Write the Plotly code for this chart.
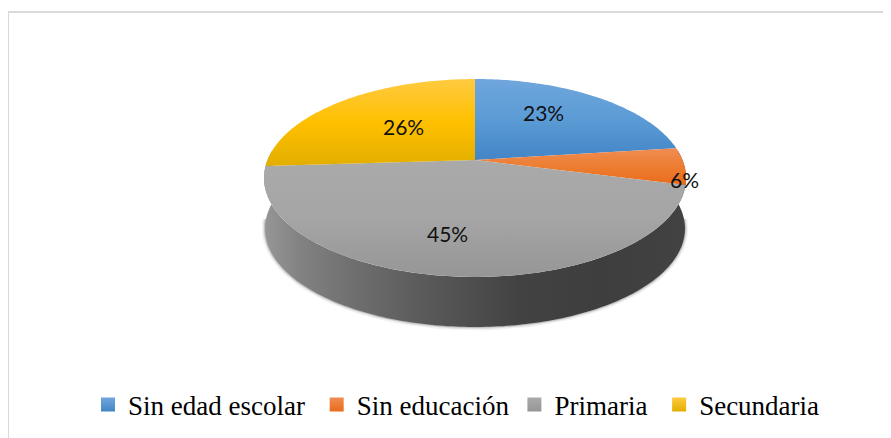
import numpy as np
import plotly.graph_objects as go

categories = ["Sin edad escolar", "Sin educación", "Primaria", "Secundaria"]
percent = [23, 6, 45, 26]
gradients = [
    ["#6fa6dd", "#5b9bd5", "#4285c6"],
    ["#f08c52", "#ed7d31", "#e96c1a"],
    ["#aaaaaa", "#a5a5a5", "#969696"],
    ["#ffca40", "#ffc000", "#e2ae00"],
]
labels = ["23%", "6%", "45%", "26%"]
legend_pad = [1, 0, 1, 0]  # extra no-break spaces to space the legend entries

W, H = 891, 438
PAGE = 8  # the page's own margin
APEX_X, APEX_Y = 475, 160
A, B, K = 95.7, 207.5, 0.1818
DEPTH = 50.6
RIM_SCALE = 0.995
label_pos = [(543, 112), (684, 179), (447, 233), (403, 126)]
rim_stops = [(265, 150), (300, 130), (350, 112), (430, 88), (520, 66), (600, 62), (685, 66)]


def project(theta_deg, scale=1.0, dy=0.0):
    t = np.radians(theta_deg)
    u, v = np.sin(t), np.cos(t)
    d = 1 + K * v
    return APEX_X + B * scale * u / d, APEX_Y + dy - A * scale * v / d


fig = go.Figure()

# Soft shadow round the rim
th = np.linspace(95, 265, 120)
sx, sy = project(th, RIM_SCALE, DEPTH)
for w, a in [(7, 0.05), (4, 0.09), (2, 0.14)]:
    fig.add_trace(go.Scatter(x=sx, y=sy, mode="lines", line=dict(color=f"rgba(0,0,0,{a})", width=w),
                             showlegend=False, hoverinfo="skip"))

# Rim, shaded from left to right
arc = np.linspace(84, 276, 200)
tx, ty = project(arc)
bx, by = project(arc[::-1], RIM_SCALE, DEPTH)
x0, x1 = rim_stops[0][0], rim_stops[-1][0]
fig.add_trace(go.Scatter(
    x=np.r_[tx, bx], y=np.r_[ty, by], mode="none", fill="toself", showlegend=False, hoverinfo="skip",
    fillgradient=dict(type="horizontal", start=x0, stop=x1,
                      colorscale=[[(p - x0) / (x1 - x0), f"rgb({g},{g},{g})"] for p, g in rim_stops]),
))

# Top face, one wedge for each value
angles = np.r_[0, np.cumsum(percent)] * 3.6
for name, a0, a1, grad in zip(categories, angles[:-1], angles[1:], gradients):
    arc = np.linspace(a0, a1, 90)
    px, py = project(arc)
    x = np.r_[APEX_X, px, APEX_X]
    y = np.r_[APEX_Y, py, APEX_Y]
    fig.add_trace(go.Scatter(
        x=x, y=y, mode="none", fill="toself", showlegend=False, hoverinfo="skip",
        fillgradient=dict(type="vertical", start=float(y.min()), stop=float(y.max()),
                          colorscale=[[0, grad[0]], [0.5, grad[1]], [1, grad[2]]]),
    ))

# Legend entries
for name, grad, pad in zip(categories, gradients, legend_pad):
    fig.add_trace(go.Scatter(
        x=[None], y=[None], mode="markers", name=name + "\u00a0" * pad,
        marker=dict(symbol="square", size=14, color=grad[0],
                    gradient=dict(type="vertical", color=grad[2])),
    ))

for text, (lx, ly) in zip(labels, label_pos):
    fig.add_annotation(x=lx, y=ly, text=text, showarrow=False,
                       font=dict(family="Lato", size=21, color="#111111"))

fig.add_shape(type="rect", x0=8, y0=12, x1=W + 20, y1=H + 20,
              line=dict(color="#d9d9d9", width=2), layer="below")

fig.update_layout(
    width=W - PAGE, height=H - PAGE, margin=dict(l=0, r=0, t=0, b=0),
    paper_bgcolor="white", plot_bgcolor="white",
    xaxis=dict(range=[PAGE, W], visible=False, fixedrange=True),
    yaxis=dict(range=[H, PAGE], visible=False, fixedrange=True),
    showlegend=True,
    legend=dict(orientation="h", x=80 / (W - PAGE), xanchor="left", y=(H - 405) / (H - PAGE), yanchor="middle",
                font=dict(family="Liberation Serif", size=27, color="#000000"),
                bgcolor="rgba(0,0,0,0)", traceorder="normal"),
)
fig.write_html("out.html")
